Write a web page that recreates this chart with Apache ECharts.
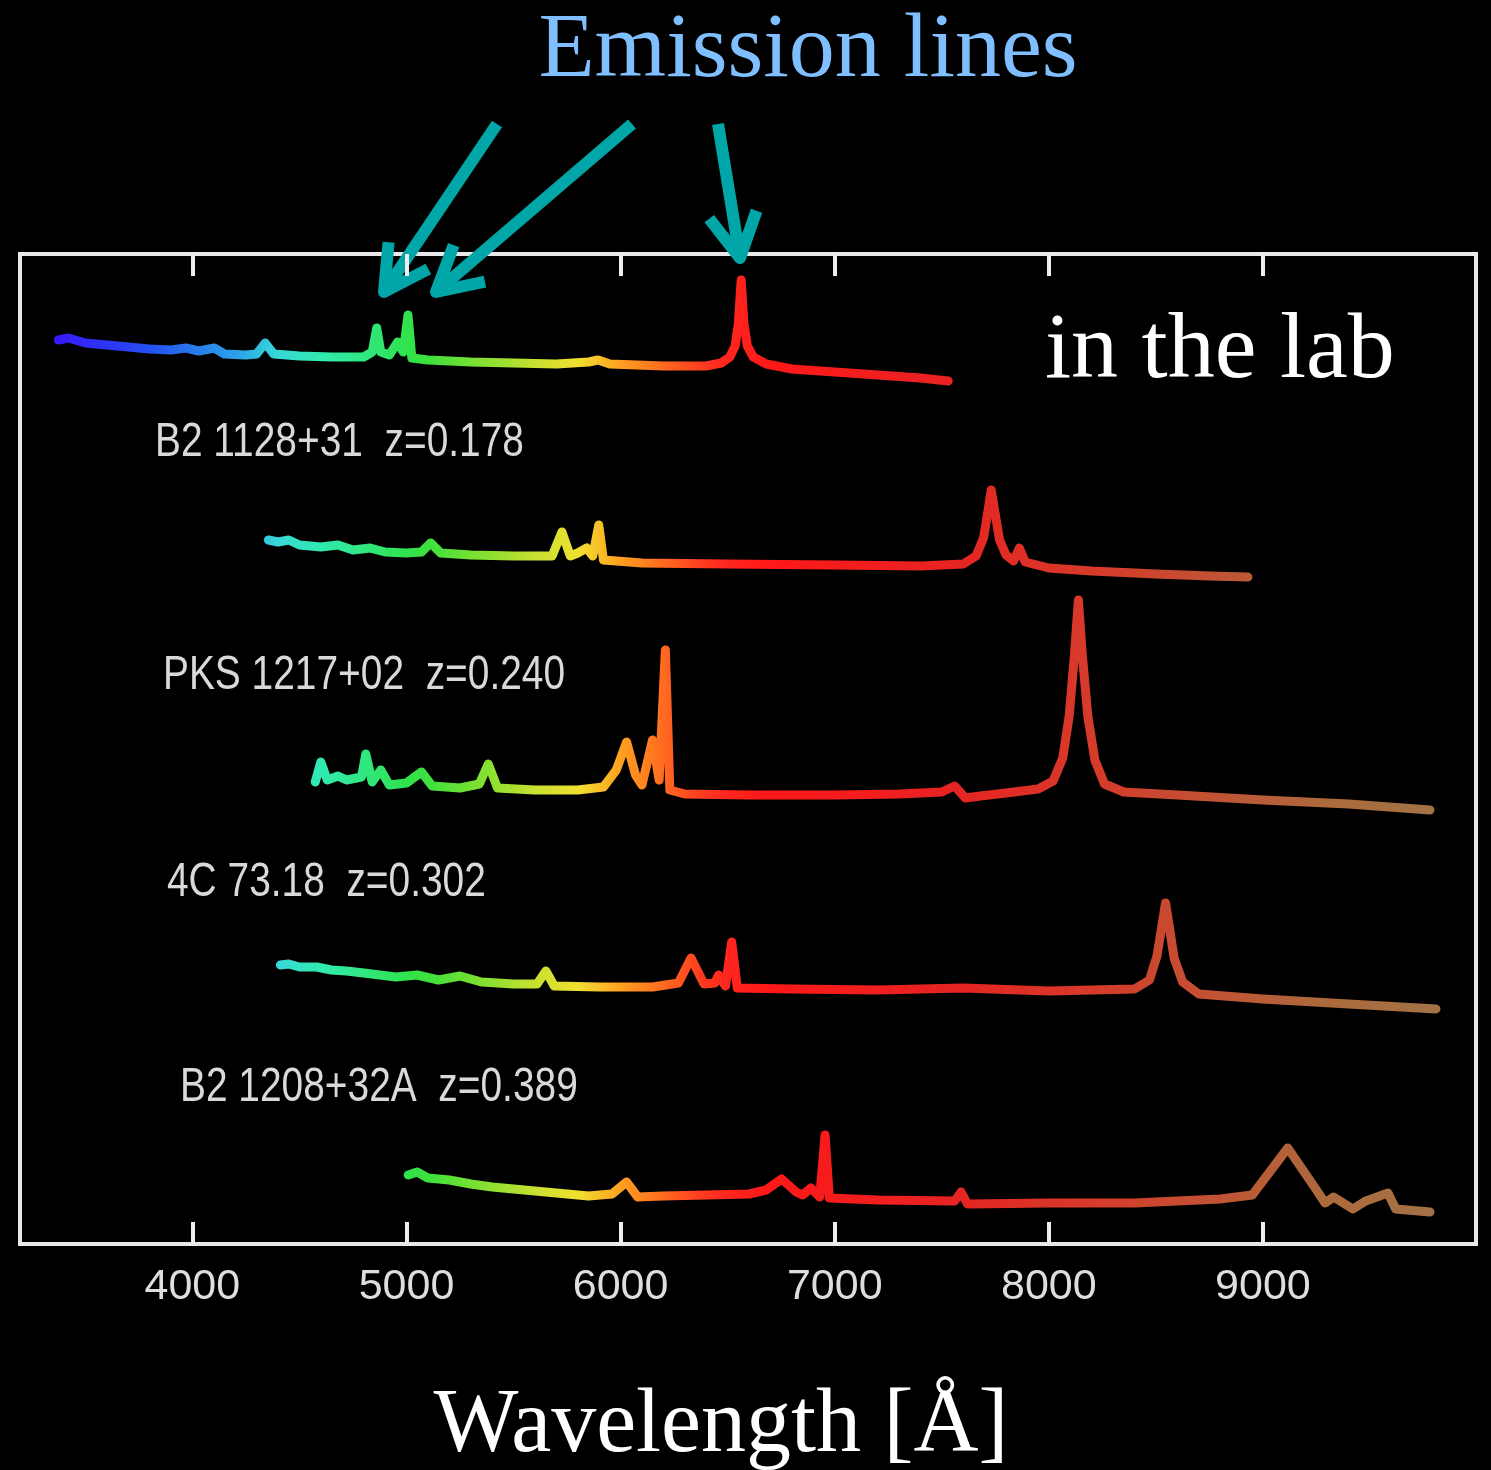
<!DOCTYPE html>
<html>
<head>
<meta charset="utf-8">
<script src="https://cdn.jsdelivr.net/npm/echarts@6/dist/echarts.min.js"></script>
<style>
html, body { margin: 0; background: #000; }
#chart { width: 1491px; height: 1470px; }
</style>
</head>
<body>
<div id="chart"></div>
<script>
// wavelength [A], offset flux (arbitrary units)
var labSpec = [[3374,90.4],[3420,90.6],[3500,90.1],[3600,89.9],[3700,89.7],[3800,89.5],[3900,89.4],[3970,89.6],[4030,89.3],[4102,89.6],[4150,89.0],[4250,88.9],[4300,89.0],[4340,90.1],[4380,89.0],[4500,88.8],[4650,88.7],[4800,88.7],[4840,89.2],[4861,91.6],[4880,89.2],[4920,88.9],[4959,90.2],[4985,89.2],[5007,92.9],[5025,88.6],[5100,88.4],[5300,88.2],[5500,88.1],[5700,88.0],[5850,88.2],[5895,88.4],[5950,88.0],[6200,87.8],[6400,87.8],[6470,88.1],[6510,88.7],[6535,89.8],[6550,92.0],[6563,96.4],[6576,92.0],[6592,89.8],[6620,88.7],[6680,88.0],[6800,87.5],[7000,87.2],[7200,86.9],[7400,86.6],[7530,86.3]];
var spec178 = [[4355,70.4],[4400,70.2],[4450,70.4],[4500,69.9],[4600,69.7],[4680,69.9],[4750,69.4],[4830,69.6],[4900,69.2],[5000,69.1],[5070,69.2],[5113,70.1],[5160,69.1],[5300,68.9],[5500,68.8],[5680,68.8],[5726,71.2],[5765,68.8],[5800,69.1],[5842,69.6],[5870,68.8],[5898,71.9],[5920,68.4],[6100,68.1],[6500,68.0],[7000,67.9],[7400,67.8],[7600,68.0],[7660,68.8],[7695,70.6],[7715,73.2],[7731,75.4],[7748,73.2],[7770,70.4],[7800,68.9],[7835,68.3],[7862,69.6],[7890,68.2],[8000,67.6],[8200,67.3],[8500,67.0],[8750,66.8],[8930,66.7]];
var spec240 = [[4574,46.2],[4600,48.2],[4630,46.4],[4680,46.8],[4720,46.4],[4790,46.7],[4810,49.0],[4840,46.2],[4880,47.4],[4920,45.9],[5000,46.1],[5070,47.2],[5120,45.8],[5250,45.6],[5340,46.0],[5382,48.0],[5425,45.6],[5600,45.4],[5800,45.4],[5920,45.7],[5980,47.4],[6028,50.2],[6070,46.9],[6100,45.9],[6149,50.4],[6180,46.4],[6209,59.4],[6230,45.4],[6300,45.0],[6600,44.9],[7000,44.9],[7300,45.0],[7500,45.2],[7560,45.8],[7610,44.6],[7680,44.8],[7800,45.1],[7950,45.5],[8020,46.3],[8065,48.6],[8095,52.8],[8120,59.0],[8138,64.4],[8156,59.0],[8182,52.8],[8215,48.4],[8260,46.0],[8350,45.2],[8600,44.9],[9000,44.4],[9400,44.0],[9780,43.4]];
var spec302 = [[4411,27.9],[4450,28.0],[4500,27.7],[4580,27.7],[4650,27.4],[4720,27.3],[4800,27.1],[4950,26.7],[5050,26.9],[5150,26.4],[5250,26.8],[5350,26.2],[5500,26.0],[5610,26.0],[5651,27.3],[5690,25.8],[5900,25.7],[6150,25.7],[6270,26.1],[6329,28.6],[6390,26.0],[6440,26.1],[6458,26.9],[6490,25.8],[6519,30.2],[6545,25.6],[6800,25.5],[7200,25.4],[7600,25.6],[8000,25.3],[8400,25.5],[8470,26.4],[8505,28.8],[8528,31.8],[8545,34.1],[8562,31.8],[8585,28.6],[8625,26.2],[8700,25.0],[9000,24.5],[9400,24.0],[9808,23.5]];
var spec389 = [[5008,6.9],[5050,7.2],[5100,6.6],[5200,6.4],[5300,6.0],[5400,5.7],[5550,5.4],[5700,5.1],[5850,4.8],[5960,5.0],[6028,6.2],[6080,4.7],[6200,4.8],[6400,4.9],[6600,5.0],[6680,5.4],[6752,6.5],[6820,5.2],[6850,4.9],[6889,5.6],[6930,4.7],[6955,10.9],[6975,4.6],[7200,4.4],[7560,4.3],[7590,5.2],[7620,4.0],[8000,4.1],[8400,4.1],[8800,4.5],[8950,4.9],[9116,9.6],[9250,5.4],[9290,4.1],[9330,4.7],[9420,3.5],[9480,4.3],[9584,5.1],[9620,3.5],[9780,3.2]];

var spectra = [labSpec, spec178, spec240, spec302, spec389];
var objectLabels = ['B2 1128+31  z=0.178', 'PKS 1217+02  z=0.240', '4C 73.18  z=0.302', 'B2 1208+32A  z=0.389'];
var tickValues = [4000, 5000, 6000, 7000, 8000, 9000];

// colour of the trace as a function of observed wavelength
var colorStops = [[3300,'#3a10ff'],[3800,'#2450f0'],[4200,'#2aa0e8'],[4400,'#38d8d8'],[4600,'#30eab0'],[4800,'#30e880'],[5050,'#30e040'],[5350,'#80e030'],[5600,'#c8e030'],[5800,'#f0e030'],[6000,'#ffa020'],[6200,'#ff6a20'],[6450,'#ff2a20'],[6700,'#ff1818'],[7500,'#e82222'],[8200,'#d63a2a'],[8800,'#c05434'],[9300,'#ac6a3c'],[9900,'#a07448']];
function colorAt(w) {
    for (var i = 1; i < colorStops.length; i++) {
        if (w <= colorStops[i][0]) {
            var a = colorStops[i - 1], b = colorStops[i];
            return echarts.color.lerp((w - a[0]) / (b[0] - a[0]), [a[1], b[1]]);
        }
    }
    return colorStops[colorStops.length - 1][1];
}
var mapColors = [];
for (var w = 3300; w <= 9900; w += 100) mapColors.push(colorAt(w));

var myChart = echarts.init(document.getElementById('chart'));

var sans = '"Liberation Sans", Arial, sans-serif';
var serif = '"Liberation Serif", "DejaVu Serif", serif';

// arrows pointing at the emission lines
function arrow(x1, y1, x2, y2) {
    var ang = Math.atan2(y2 - y1, x2 - x1), len = 50, spread = 0.5;
    var p1 = [x2 - len * Math.cos(ang - spread), y2 - len * Math.sin(ang - spread)];
    var p2 = [x2 - len * Math.cos(ang + spread), y2 - len * Math.sin(ang + spread)];
    var st = { stroke: '#00a6a8', lineWidth: 12, lineCap: 'butt', lineJoin: 'round', fill: null };
    return [
        { type: 'line', shape: { x1: x1, y1: y1, x2: x2, y2: y2 }, style: st },
        { type: 'polyline', shape: { points: [p1, [x2, y2], p2] }, style: st }
    ];
}

function text(t, x, y, size, family, color, align, sx) {
    return {
        type: 'text', x: x, y: y, scaleX: sx || 1,
        style: { text: t, x: 0, y: 0, fill: color, fontSize: size, fontFamily: family,
                 align: align, verticalAlign: 'middle', textAlign: align, textVerticalAlign: 'middle' }
    };
}

var graphics = [];
graphics.push(text('Emission lines', 808, 52, 92, serif, '#80bfff', 'center'));
graphics.push(text('in the lab', 1045, 352, 94, serif, '#ffffff', 'left'));
graphics.push(text('Wavelength [Å]', 721, 1427, 90, serif, '#ffffff', 'center'));
var labelPos = [[155, 443], [163, 676], [167, 883], [180, 1088]];
objectLabels.forEach(function (t, i) {
    graphics.push(text(t, labelPos[i][0], labelPos[i][1], 48, sans, '#d9d9d9', 'left', 0.81));
});
graphics = graphics.concat(arrow(497, 124, 384, 292), arrow(632, 124, 436, 292), arrow(718, 124, 740, 258));

var option = {
    backgroundColor: '#000',
    animation: false,
    grid: {
        left: 20, top: 254, width: 1456, height: 990,
        show: true, borderColor: '#e8e8e8', borderWidth: 4
    },
    xAxis: [
        {
            type: 'value', position: 'bottom', min: 3195, max: 9995,
            axisLine: { show: false },
            axisTick: { show: true, inside: true, length: 22, customValues: tickValues, lineStyle: { color: '#eeeeee', width: 4 } },
            axisLabel: {
                show: true, customValues: tickValues, margin: 22, color: '#dedede',
                fontSize: 43, fontFamily: sans,
                formatter: function (v) { return String(v); }
            },
            splitLine: { show: false }
        },
        {
            type: 'value', position: 'top', min: 3195, max: 9995,
            axisLine: { show: false },
            axisTick: { show: true, inside: true, length: 22, customValues: tickValues, lineStyle: { color: '#eeeeee', width: 4 } },
            axisLabel: { show: false },
            splitLine: { show: false }
        }
    ],
    yAxis: { type: 'value', min: 0, max: 99, show: false },
    visualMap: {
        type: 'continuous', show: false, dimension: 0,
        seriesIndex: [0, 1, 2, 3, 4],
        min: 3300, max: 9900,
        inRange: { color: mapColors }
    },
    series: spectra.map(function (d) {
        return {
            type: 'line', data: d, xAxisIndex: 0,
            symbol: 'none', showSymbol: false,
            lineStyle: { width: 9, cap: 'round', join: 'round' }
        };
    }),
    graphic: graphics
};

myChart.setOption(option);
</script>
</body>
</html>
